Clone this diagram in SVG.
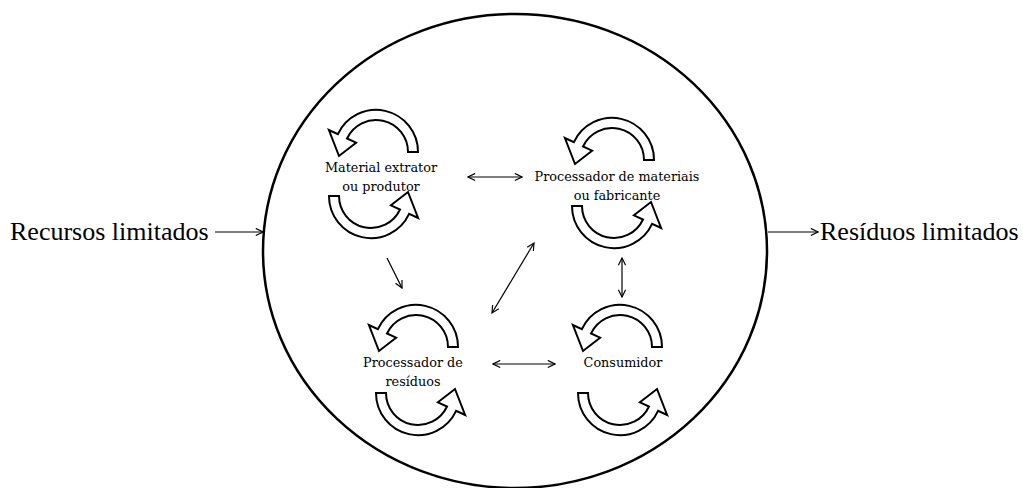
<svg xmlns="http://www.w3.org/2000/svg" width="1023" height="488" viewBox="0 0 1023 488">
<style>
.big{font-family:"Liberation Serif","Times New Roman",serif;font-size:26px;fill:#000}
.lbl{font-family:"DejaVu Serif","Liberation Serif",serif;font-size:12.8px;fill:#000;text-anchor:middle}
.cyc{fill:#fff;stroke:#000;stroke-width:2;stroke-linejoin:miter}
.con{fill:none;stroke:#000;stroke-width:1.2}
</style>
<defs>
<marker id="ah" viewBox="0 0 10 10" refX="9" refY="5" markerWidth="9" markerHeight="9" markerUnits="userSpaceOnUse" orient="auto-start-reverse">
<path d="M1,1 L9,5 L1,9" fill="none" stroke="#000" stroke-width="1.3"/>
</marker>
<path id="arc" class="cyc" d="M32,0 L42,0 A42 42 0 0 0 -38.1,-17.8 L-47.1,-22 L-37,4 L-19.9,-9.3 L-29,-13.5 A32 32 0 0 1 32,0 Z"/>
</defs>
<rect width="1023" height="488" fill="#fff"/>
<ellipse id="boundary" cx="515" cy="251" rx="252" ry="237" fill="none" stroke="#000" stroke-width="2.5"/>
<g id="recursos"><text class="big" x="10" y="240">Recursos limitados</text></g>
<g id="residuos"><text class="big" x="820" y="240">Resíduos limitados</text></g>
<g id="n1">
<use href="#arc" transform="translate(376,152)"/>
<use href="#arc" transform="translate(371,196) rotate(180)"/>
<text class="lbl" x="381" y="172">Material extrator</text>
<text class="lbl" x="381" y="191">ou produtor</text>
</g>
<g id="n2">
<use href="#arc" transform="translate(612,160)"/>
<use href="#arc" transform="translate(614,206) rotate(180)"/>
<text class="lbl" x="617" y="181">Processador de materiais</text>
<text class="lbl" x="617" y="200">ou fabricante</text>
</g>
<g id="n3">
<use href="#arc" transform="translate(416,347)"/>
<use href="#arc" transform="translate(418,393) rotate(180)"/>
<text class="lbl" x="413" y="367">Processador de</text>
<text class="lbl" x="413" y="386">resíduos</text>
</g>
<g id="n4">
<use href="#arc" transform="translate(620,347)"/>
<use href="#arc" transform="translate(620,393) rotate(180)"/>
<text class="lbl" x="623" y="367">Consumidor</text>
</g>
<g id="connectors">
<line class="con" x1="215" y1="232" x2="263" y2="232" marker-end="url(#ah)"/>
<line class="con" x1="768" y1="232" x2="818" y2="232" marker-end="url(#ah)"/>
<line class="con" x1="468" y1="177" x2="522" y2="177" marker-start="url(#ah)" marker-end="url(#ah)"/>
<line class="con" x1="387" y1="258" x2="402" y2="288" marker-end="url(#ah)"/>
<line class="con" x1="492" y1="313" x2="534" y2="243" marker-start="url(#ah)" marker-end="url(#ah)"/>
<line class="con" x1="493" y1="364" x2="555" y2="364" marker-start="url(#ah)" marker-end="url(#ah)"/>
<line class="con" x1="622" y1="258" x2="622" y2="297" marker-start="url(#ah)" marker-end="url(#ah)"/>
</g>
</svg>
